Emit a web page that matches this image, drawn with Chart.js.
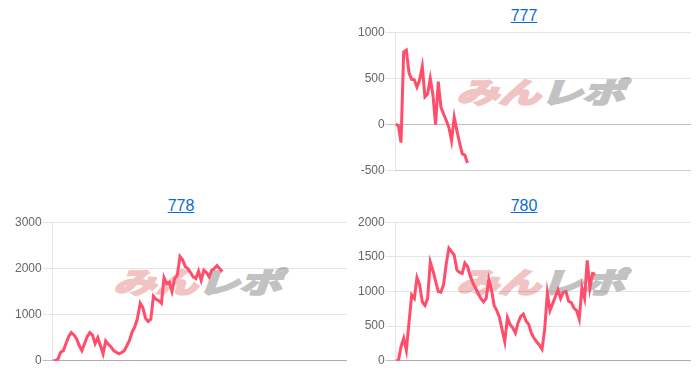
<!DOCTYPE html>
<html><head><meta charset="utf-8">
<script src="https://cdn.jsdelivr.net/npm/chart.js@4/dist/chart.umd.min.js"></script>
<style>
html,body{margin:0;padding:0;background:#fff;}
body{width:700px;height:372px;position:relative;overflow:hidden;font-family:"Liberation Sans",Arial,sans-serif;}
.cell{position:absolute;width:334px;height:186px;}
.title{position:absolute;left:0;top:0;width:100%;text-align:center;font-size:16px;line-height:18px;}
.title a{color:#0b6bd3;text-decoration:underline;}
.cv{position:absolute;left:0;top:17px;}
.wm{position:absolute;left:109px;top:69px;white-space:nowrap;font-family:"Noto Sans CJK JP",sans-serif;font-weight:bold;font-size:30px;line-height:30px;transform-origin:0 0;transform:scale(1.4,0.95) skewX(-14deg);}
.wm .a{color:#f1c3c3;-webkit-text-stroke:2.5px #f1c3c3;}
.wm .b{color:#c2c2c2;-webkit-text-stroke:2.5px #c2c2c2;}
</style>
</head><body>
<div class="cell" style="left:357px;top:7px;">
  <div class="title"><a href="#">777</a></div>
  <div class="wm"><span class="a">みん</span><span class="b">レポ</span></div>
  <canvas class="cv" id="c777" width="334" height="155"></canvas>
</div>
<div class="cell" style="left:14px;top:197px;">
  <div class="title"><a href="#">778</a></div>
  <div class="wm"><span class="a">みん</span><span class="b">レポ</span></div>
  <canvas class="cv" id="c778" width="333" height="155"></canvas>
</div>
<div class="cell" style="left:357px;top:197px;">
  <div class="title"><a href="#">780</a></div>
  <div class="wm"><span class="a">みん</span><span class="b">レポ</span></div>
  <canvas class="cv" id="c780" width="334" height="155"></canvas>
</div>
<script>
const xCount = 112;
const xLabels = Array.from({length: xCount}, (_, i) => String(i + 1));

const series777 = [5, -10, -195, 785, 805, 560, 490, 485, 405, 485, 630, 300, 330, 500, 320, 0, 465, 190, 115, 45, -30, -175, 80, -65, -195, -315, -330, -415];

const series778 = [0, 0, 40, 185, 220, 370, 520, 610, 560, 480, 330, 220, 370, 520, 610, 555, 370, 500, 330, 150, 430, 360, 300, 220, 185, 150, 180, 220, 330, 445, 630, 740, 925, 1245, 1150, 925, 850, 900, 1400, 1330, 1300, 1245, 1800, 1670, 1700, 1500, 1780, 1850, 2260, 2185, 2040, 1990, 1910, 1815, 1780, 1940, 1740, 1960, 1910, 1815, 1960, 2000, 2060, 1990, 1930];

const series780 = [0, 0, 200, 325, 150, 550, 950, 900, 1200, 1100, 850, 800, 900, 1425, 1300, 1150, 1000, 990, 1100, 1400, 1625, 1575, 1525, 1310, 1275, 1260, 1410, 1360, 1225, 1125, 1050, 975, 900, 850, 900, 1175, 1025, 800, 725, 625, 450, 275, 625, 525, 475, 400, 550, 640, 675, 575, 525, 400, 325, 275, 225, 165, 450, 975, 725, 825, 925, 1025, 900, 990, 1000, 860, 840, 760, 725, 600, 1050, 900, 1450, 1050, 1260, 1250];

const axis777 = {min: -500, max: 1000, step: 500};
const axis778 = {min: 0, max: 3000, step: 1000};
const axis780 = {min: 0, max: 2000, step: 500};

const lineColor = 'rgb(255, 78, 108)';

function makeChart(id, values, ax) {
  new Chart(document.getElementById(id), {
    type: 'line',
    data: {
      labels: xLabels,
      datasets: [{
        data: values,
        borderColor: lineColor,
        backgroundColor: lineColor,
        borderWidth: 3,
        pointRadius: 0,
        fill: false,
        tension: 0
      }]
    },
    options: {
      responsive: false,
      animation: false,
      maintainAspectRatio: false,
      layout: {padding: 0},
      plugins: {legend: {display: false}, tooltip: {enabled: false}, title: {display: false}},
      scales: {
        x: {
          grid: {display: false, drawTicks: false},
          ticks: {display: false},
          border: {display: true, color: 'rgba(0,0,0,0.1)'}
        },
        y: {
          min: ax.min, max: ax.max,
          ticks: {stepSize: ax.step, color: '#666', padding: 1,
                  callback: (v) => String(v),
                  font: {size: 12, family: '"Liberation Sans", Arial, sans-serif'}},
          grid: {
            tickLength: 10,
            color: (ctx) => (ctx.tick && ctx.tick.value === 0) ? 'rgba(0,0,0,0.25)' : 'rgba(0,0,0,0.1)'
          },
          border: {color: 'rgba(0,0,0,0.1)'}
        }
      }
    }
  });
}

makeChart('c777', series777, axis777);
makeChart('c778', series778, axis778);
makeChart('c780', series780, axis780);
</script>
</body></html>
